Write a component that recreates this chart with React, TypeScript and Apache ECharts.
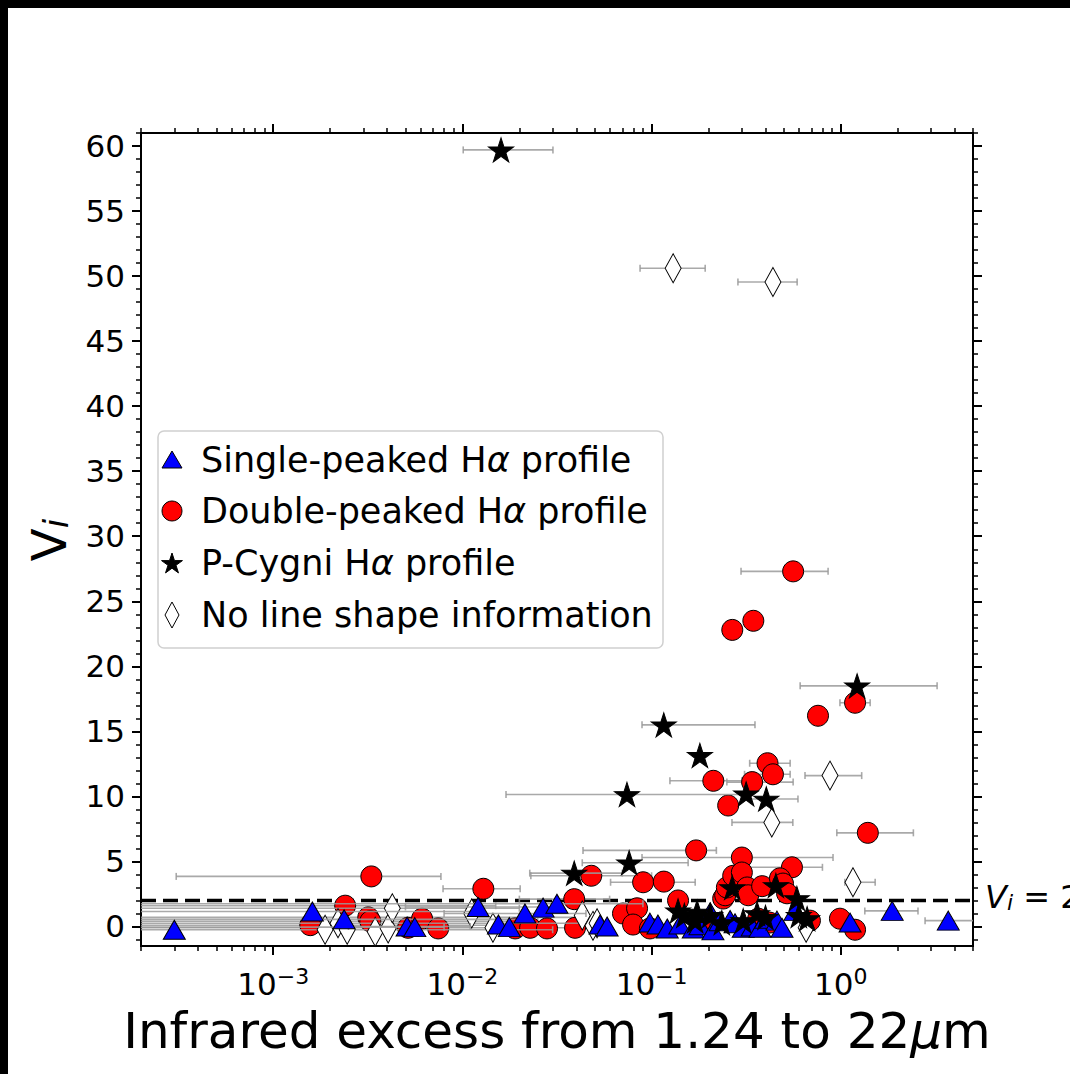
import React, { useEffect, useRef } from 'react';
import * as echarts from 'echarts';

// ---------------- data ----------------
const X_MIN = 2e-4;
const X_MAX = 5;
const Y_MIN = -1.5;
const Y_MAX = 61;

const xMajorTicks = [0.001, 0.01, 0.1, 1];
const xTickExponents = ['\u22123', '\u22122', '\u22121', '0'];
const yMajorTicks = [0, 5, 10, 15, 20, 25, 30, 35, 40, 45, 50, 55, 60];
const thresholdV = 2;

const seriesNames = [
  'Single-peaked H\u03b1 profile',
  'Double-peaked H\u03b1 profile',
  'P-Cygni H\u03b1 profile',
  'No line shape information',
];

// [infrared excess, V_i, error-bar low, error-bar high] (null = no bar)
const singlePeaked: (number | null)[][] = [
  [0.0003, -0.25, null, null],
  [0.00161, 1.15, 1e-5, 0.012],
  [0.00237, 0.55, 1e-5, 0.02],
  [0.0051, 0.0, 0.0025, 0.011],
  [0.0056, -0.05, 1e-5, 0.008],
  [0.0121, 1.5, 0.005, 0.03],
  [0.0155, 0.15, null, null],
  [0.0177, -0.05, null, null],
  [0.0214, 1.0, 0.008, 0.045],
  [0.0267, 1.45, null, null],
  [0.0316, 1.75, 1e-5, 0.09],
  [0.0534, 0.15, null, null],
  [0.0582, 0.0, null, null],
  [0.098, 0.3, null, null],
  [0.108, 0.15, null, null],
  [0.121, -0.15, null, null],
  [0.141, 0.15, null, null],
  [0.166, -0.15, null, null],
  [0.18, 0.1, null, null],
  [0.204, 1.1, null, null],
  [0.211, -0.3, null, null],
  [0.23, 0.4, null, null],
  [0.26, 0.5, null, null],
  [0.276, 0.25, null, null],
  [0.305, -0.1, null, null],
  [0.34, 0.0, null, null],
  [0.374, -0.1, null, null],
  [0.4, 0.6, null, null],
  [0.46, 0.45, null, null],
  [0.489, -0.1, null, null],
  [0.573, 1.2, null, null],
  [1.12, 0.3, null, null],
  [1.87, 1.2, 1.34, 2.56],
  [3.7, 0.45, 2.79, 6.5],
];

const doublePeaked: (number | null)[][] = [
  [0.56, 27.3, 0.297, 0.857],
  [0.267, 22.8, null, null],
  [0.345, 23.5, null, null],
  [0.758, 16.2, null, null],
  [1.19, 17.2, 0.99, 1.43],
  [0.41, 12.55, 0.33, 0.54],
  [0.438, 11.7, 0.31, 0.54],
  [0.212, 11.2, 0.125, 0.3],
  [0.34, 11.1, 0.25, 0.56],
  [0.254, 9.3, null, null],
  [1.39, 7.2, 0.953, 2.42],
  [0.172, 5.85, 0.0434, 0.22],
  [0.3, 5.3, 0.089, 0.91],
  [0.552, 4.55, 0.3, 0.8],
  [0.0033, 3.85, 0.000307, 0.0077],
  [0.048, 3.9, 0.023, 0.1],
  [0.0129, 2.9, 0.0079, 0.0202],
  [0.0902, 3.4, 0.0607, 0.17],
  [0.116, 3.45, null, null],
  [0.039, 2.1, 0.02, 0.06],
  [0.138, 2.0, null, null],
  [0.00157, 0.1, 1e-5, 0.03],
  [0.0024, 1.6, 1e-5, 0.015],
  [0.00318, 0.7, 1e-5, 0.04],
  [0.00326, 0.4, 1e-5, 0.025],
  [0.00516, -0.1, 1e-5, 0.06],
  [0.00612, 0.6, null, null],
  [0.00745, -0.15, null, null],
  [0.019, -0.15, null, null],
  [0.0228, -0.1, null, null],
  [0.028, -0.15, null, null],
  [0.0394, -0.1, null, null],
  [0.0706, 1.0, null, null],
  [0.0838, 1.4, null, null],
  [0.0798, 0.15, null, null],
  [0.098, -0.15, null, null],
  [0.18, 0.3, null, null],
  [0.239, 2.15, null, null],
  [0.245, 2.4, null, null],
  [0.25, 3.0, null, null],
  [0.27, 3.9, null, null],
  [0.3, 4.15, null, null],
  [0.32, 3.0, null, null],
  [0.324, 2.4, null, null],
  [0.366, 0.6, null, null],
  [0.384, 3.1, null, null],
  [0.42, 0.3, null, null],
  [0.477, 3.7, null, null],
  [0.495, 3.3, null, null],
  [0.52, 2.55, null, null],
  [0.687, 0.45, null, null],
  [0.99, 0.6, null, null],
  [1.19, -0.25, null, null],
];

const pCygni: (number | null)[][] = [
  [0.016, 59.7, 0.0101, 0.0301],
  [0.116, 15.5, 0.089, 0.352],
  [1.22, 18.5, 0.61, 3.23],
  [0.18, 13.15, null, null],
  [0.0741, 10.15, 0.017, 0.3],
  [0.316, 10.2, null, null],
  [0.404, 9.8, 0.3, 0.594],
  [0.039, 4.1, 0.0227, 0.07],
  [0.0761, 4.9, 0.043, 0.156],
  [0.267, 3.0, null, null],
  [0.454, 3.15, null, null],
  [0.586, 2.15, null, null],
  [0.138, 1.2, null, null],
  [0.149, 0.85, null, null],
  [0.17, 0.45, null, null],
  [0.174, 1.1, null, null],
  [0.204, 0.85, null, null],
  [0.235, 0.3, null, null],
  [0.305, 0.45, null, null],
  [0.361, 1.0, null, null],
  [0.4, 0.7, null, null],
  [0.6, 0.85, null, null],
  [0.664, 0.6, null, null],
];

const noInfo: (number | null)[][] = [
  [0.13, 50.6, 0.0869, 0.192],
  [0.438, 49.55, 0.286, 0.588],
  [0.877, 11.6, 0.647, 1.29],
  [0.432, 8.0, 0.266, 0.558],
  [1.16, 3.4, 1.05, 1.52],
  [0.00188, -0.25, 1e-5, 0.03],
  [0.0022, 0.25, 1e-5, 0.05],
  [0.00246, -0.25, null, null],
  [0.00346, -0.4, null, null],
  [0.00405, -0.15, null, null],
  [0.00426, 1.4, 1e-5, 0.02],
  [0.0112, 1.0, null, null],
  [0.0145, -0.1, null, null],
  [0.043, 0.85, null, null],
  [0.049, 0.05, null, null],
  [0.0515, 0.25, null, null],
  [0.656, -0.1, null, null],
];

// ---------------- styling helpers ----------------
const FONT = 'DejaVu Sans';

function starPoints(cx: number, cy: number, R: number): number[][] {
  const pts: number[][] = [];
  for (let k = 0; k < 10; k++) {
    const a = Math.PI / 2 + (k * Math.PI) / 5;
    const r = k % 2 === 0 ? R : R * 0.381966;
    pts.push([cx + r * Math.cos(a), cy - r * Math.sin(a)]);
  }
  return pts;
}
const STAR_SYMBOL =
  'path://' +
  starPoints(0, 0, 1)
    .map((p, i) => (i === 0 ? 'M' : 'L') + p[0].toFixed(4) + ' ' + p[1].toFixed(4))
    .join(' ') +
  ' Z';

function minorLogTicks(): number[] {
  const out: number[] = [];
  for (let e = -4; e <= 0; e++) {
    for (let m = 2; m <= 9; m++) {
      const v = m * Math.pow(10, e);
      if (v >= X_MIN * 0.999 && v <= X_MAX * 1.001) out.push(v);
    }
  }
  return out;
}
function minorLinTicks(): number[] {
  const out: number[] = [];
  for (let v = Math.ceil(Y_MIN); v <= Math.floor(Y_MAX); v++) {
    if (v % 5 !== 0) out.push(v);
  }
  return out;
}

const errColor = '#9a9a9a';

function errorBarSeries(rows: (number | null)[][], z: number) {
  const data = rows.filter((r) => r[2] != null && r[3] != null);
  return {
    type: 'custom',
    xAxisIndex: 0,
    yAxisIndex: 0,
    clip: true,
    silent: true,
    z,
    encode: { x: 0, y: 1 },
    data,
    renderItem: (params: any, api: any) => {
      const y = api.value(1);
      const p1 = api.coord([api.value(2), y]);
      const p2 = api.coord([api.value(3), y]);
      const st = { stroke: errColor, lineWidth: 1.6, opacity: 0.85 };
      return {
        type: 'group',
        children: [
          { type: 'line', shape: { x1: p1[0], y1: p1[1], x2: p2[0], y2: p2[1] }, style: st },
          { type: 'line', shape: { x1: p1[0], y1: p1[1] - 3.5, x2: p1[0], y2: p1[1] + 3.5 }, style: st },
          { type: 'line', shape: { x1: p2[0], y1: p2[1] - 3.5, x2: p2[0], y2: p2[1] + 3.5 }, style: st },
        ],
      };
    },
  };
}

function scatter(name: string, rows: (number | null)[][], symbol: string, size: number | number[], color: string, z: number) {
  return {
    name,
    type: 'scatter',
    xAxisIndex: 0,
    yAxisIndex: 0,
    z,
    symbol,
    symbolSize: size,
    data: rows.map((r) => [r[0], r[1]]),
    itemStyle: { color, borderColor: '#000', borderWidth: 1, opacity: 1 },
    emphasis: { disabled: true },
  };
}

export default function App() {
  const ref = useRef<HTMLDivElement>(null);

  useEffect(() => {
    if (!ref.current) return;
    const chart = echarts.init(ref.current, null, { renderer: 'svg' });

    const gridLeft = 141;
    const gridTop = 133;
    const gridW = 832;
    const gridH = 813;

    const axisLineStyle = { color: '#000', width: 2 };
    const xBase = {
      type: 'log',
      logBase: 10,
      min: X_MIN,
      max: X_MAX,
      splitLine: { show: false },
      axisLine: { show: true, onZero: false, lineStyle: axisLineStyle },
    };
    const yBase = {
      type: 'value',
      min: Y_MIN,
      max: Y_MAX,
      splitLine: { show: false },
      axisLine: { show: true, onZero: false, lineStyle: axisLineStyle },
    };
    const majorTick = (vals: number[]) => ({ show: true, customValues: vals, length: 9, lineStyle: { color: '#000', width: 2 } });
    const minorTick = (vals: number[]) => ({ show: true, customValues: vals, length: 5, lineStyle: { color: '#000', width: 1.5 } });
    const xMinor = minorLogTicks();
    const yMinor = minorLinTicks();

    const xLabelFormatter = (v: number) => {
      const idx = xMajorTicks.findIndex((t) => Math.abs(Math.log10(t) - Math.log10(v)) < 1e-6);
      return idx >= 0 ? `{b|10}{s|${xTickExponents[idx]}}` : '';
    };

    const legendRows = [460, 511, 563, 615];
    const lx = 172;
    const legendText = (i: number) => {
      if (i === 3) return `{n|${seriesNames[3]}}`;
      const base = seriesNames[i].replace(' H\u03b1 profile', '');
      return `{n|${base} H}{i|\u03b1}{n| profile}`;
    };
    const LFS = 35;
    const legendRich = {
      n: { fontFamily: FONT, fontSize: LFS, color: '#000' },
      i: { fontFamily: FONT, fontSize: LFS, fontStyle: 'italic', color: '#000' },
    };

    const option: any = {
      animation: false,
      backgroundColor: '#fff',
      textStyle: { fontFamily: FONT },
      grid: { left: gridLeft, top: gridTop, width: gridW, height: gridH, containLabel: false },
      xAxis: [
        {
          ...xBase,
          position: 'bottom',
          axisTick: majorTick(xMajorTicks),
          axisLabel: {
            show: true,
            customValues: xMajorTicks,
            formatter: xLabelFormatter,
            margin: 19,
            color: '#000',
            rich: {
              b: { fontFamily: FONT, fontSize: 31, lineHeight: 34, verticalAlign: 'bottom', color: '#000' },
              s: { fontFamily: FONT, fontSize: 22, lineHeight: 16, verticalAlign: 'top', color: '#000' },
            },
          },
        },
        { ...xBase, position: 'bottom', axisTick: minorTick(xMinor), axisLabel: { show: false } },
        { ...xBase, position: 'top', axisTick: majorTick(xMajorTicks), axisLabel: { show: false } },
        { ...xBase, position: 'top', axisTick: minorTick(xMinor), axisLabel: { show: false } },
      ],
      yAxis: [
        {
          ...yBase,
          position: 'left',
          axisTick: majorTick(yMajorTicks),
          axisLabel: {
            show: true,
            customValues: yMajorTicks,
            margin: 16,
            color: '#000',
            fontSize: 31,
            fontFamily: FONT,
          },
        },
        { ...yBase, position: 'left', axisTick: minorTick(yMinor), axisLabel: { show: false } },
        { ...yBase, position: 'right', axisTick: majorTick(yMajorTicks), axisLabel: { show: false } },
        { ...yBase, position: 'right', axisTick: minorTick(yMinor), axisLabel: { show: false } },
      ],
      series: [
        {
          type: 'line',
          xAxisIndex: 0,
          yAxisIndex: 0,
          z: 1,
          silent: true,
          showSymbol: false,
          data: [
            [X_MIN, thresholdV],
            [X_MAX, thresholdV],
          ],
          lineStyle: { color: '#000', width: 3.6, type: [15, 7] },
        },
        errorBarSeries(doublePeaked, 2),
        scatter(seriesNames[1], doublePeaked, 'circle', 21, '#ff0000', 3),
        errorBarSeries(noInfo, 4),
        scatter(seriesNames[3], noInfo, 'diamond', [16, 29], '#ffffff', 5),
        errorBarSeries(singlePeaked, 6),
        scatter(seriesNames[0], singlePeaked, 'triangle', [22, 19], '#0000ff', 7),
        errorBarSeries(pCygni, 8),
        scatter(seriesNames[2], pCygni, STAR_SYMBOL, [25, 24], '#000000', 9),
      ],
      graphic: [
        // black strips of the original image frame
        { type: 'rect', shape: { x: 0, y: 0, width: 1070, height: 8 }, style: { fill: '#000' }, z: 100 },
        { type: 'rect', shape: { x: 0, y: 0, width: 8, height: 1074 }, style: { fill: '#000' }, z: 100 },
        // legend
        {
          type: 'rect',
          shape: { x: 158, y: 431, width: 505, height: 217, r: 6 },
          style: { fill: 'rgba(255,255,255,0.85)', stroke: '#d0d0d0', lineWidth: 1.5 },
          z: 50,
        },
        {
          type: 'polygon',
          shape: { points: [[lx - 10, legendRows[0] + 8], [lx + 10, legendRows[0] + 8], [lx, legendRows[0] - 9]] },
          style: { fill: '#0000ff', stroke: '#000', lineWidth: 1 },
          z: 51,
        },
        { type: 'circle', shape: { cx: lx, cy: legendRows[1], r: 10 }, style: { fill: '#ff0000', stroke: '#000', lineWidth: 1 }, z: 51 },
        { type: 'polygon', shape: { points: starPoints(lx, legendRows[2] + 1, 11) }, style: { fill: '#000', stroke: '#000', lineWidth: 1 }, z: 51 },
        {
          type: 'polygon',
          shape: { points: [[lx, legendRows[3] - 13], [lx + 7, legendRows[3]], [lx, legendRows[3] + 13], [lx - 7, legendRows[3]]] },
          style: { fill: '#fff', stroke: '#000', lineWidth: 1 },
          z: 51,
        },
        ...legendRows.map((yy, i) => ({
          type: 'text',
          x: 201,
          y: yy,
          z: 52,
          style: { text: legendText(i), rich: legendRich, verticalAlign: 'middle', align: 'left', fill: '#000', fontFamily: FONT, fontSize: LFS },
        })),
        // threshold annotation
        {
          type: 'text',
          x: 985,
          y: 893,
          z: 52,
          style: {
            text: '{v|V}{s|i}{n| = 2}',
            verticalAlign: 'middle',
            align: 'left',
            fill: '#000',
            rich: {
              v: { fontFamily: FONT, fontSize: 32, fontStyle: 'italic', lineHeight: 40, verticalAlign: 'bottom', color: '#000' },
              s: { fontFamily: FONT, fontSize: 22, fontStyle: 'italic', lineHeight: 22, verticalAlign: 'bottom', color: '#000' },
              n: { fontFamily: FONT, fontSize: 32, lineHeight: 40, verticalAlign: 'bottom', color: '#000' },
            },
          },
        },
        // y axis title
        {
          type: 'text',
          x: 45,
          y: 540,
          rotation: Math.PI / 2,
          z: 52,
          style: {
            text: '{v|V}{s|i}',
            verticalAlign: 'middle',
            align: 'center',
            fill: '#000',
            rich: {
              v: { fontFamily: FONT, fontSize: 48, lineHeight: 56, verticalAlign: 'bottom', color: '#000' },
              s: { fontFamily: FONT, fontSize: 34, fontStyle: 'italic', lineHeight: 34, verticalAlign: 'bottom', color: '#000' },
            },
          },
        },
        // x axis title
        {
          type: 'text',
          x: 557,
          y: 1031,
          z: 52,
          style: {
            text: '{n|Infrared excess from 1.24 to 22}{i|\u03bc}{n|m}',
            verticalAlign: 'middle',
            align: 'center',
            fill: '#000',
            rich: {
              n: { fontFamily: FONT, fontSize: 50, color: '#000' },
              i: { fontFamily: FONT, fontSize: 50, fontStyle: 'italic', color: '#000' },
            },
          },
        },
      ],
    };

    chart.setOption(option);
    return () => {
      chart.dispose();
    };
  }, []);

  return (
    <div
      ref={ref}
      style={{ position: 'fixed', left: 0, top: 0, width: 1070, height: 1074, background: '#fff' }}
    />
  );
}
